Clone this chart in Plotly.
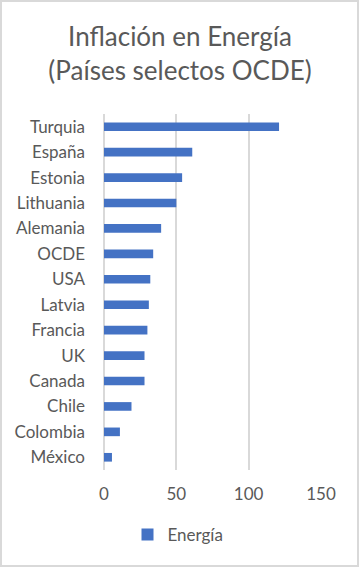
import plotly.graph_objects as go

categories = ["Turquia", "España", "Estonia", "Lithuania", "Alemania", "OCDE", "USA",
              "Latvia", "Francia", "UK", "Canada", "Chile", "Colombia", "México"]
energia = [121, 61, 54, 50, 39.5, 34, 32, 31, 30, 28, 28, 19, 11, 5.5]
x_ticks = [0, 50, 100, 150]

W, H = 359, 567
L, R, T, B = 104, 38, 114, 97
pw, ph = W - L - R, H - T - B

FONT = "Lato"
GREY = "#595959"

fig = go.Figure()
fig.add_trace(go.Bar(
    x=energia, y=categories, orientation="h", name="Energía",
    marker=dict(color="#4472C4", line=dict(width=0)),
))

fig.update_layout(
    width=W, height=H,
    margin=dict(l=L, r=R, t=T, b=B),
    paper_bgcolor="white", plot_bgcolor="white",
    font=dict(family=FONT, color=GREY, size=17),
    title=dict(text="Inflación en Energía<br>(Países selectos OCDE)",
               x=180 / W, xanchor="center", y=1 - 46 / H, yanchor="middle",
               font=dict(family=FONT, size=26, color=GREY)),
    bargap=0.66,
    showlegend=True,
    legend=dict(orientation="h", x=(178 - L) / pw, xanchor="center", y=-(535 - 470) / ph,
                yanchor="middle", font=dict(family=FONT, size=17, color=GREY), itemwidth=30),
    xaxis=dict(range=[0, 150], tickvals=x_ticks, showgrid=True, gridcolor="#D9D9D9", gridwidth=2,
               zeroline=True, zerolinecolor="#D9D9D9", zerolinewidth=2,
               showline=False, ticks="", ticklen=0, ticklabelstandoff=12,
               tickfont=dict(family=FONT, size=17, color=GREY)),
    yaxis=dict(autorange="reversed", showgrid=False, showline=False, ticks="",
               ticklabelstandoff=18, tickfont=dict(family=FONT, size=17, color=GREY)),
)

# outer chart border
fig.add_shape(type="rect", xref="paper", yref="paper",
              x0=(1 - L) / pw, x1=(W - 1 - L) / pw,
              y0=-(B - 1) / ph, y1=1 + (T - 1) / ph,
              line=dict(color="#D9D9D9", width=2), layer="below")

fig.write_html("out.html")
